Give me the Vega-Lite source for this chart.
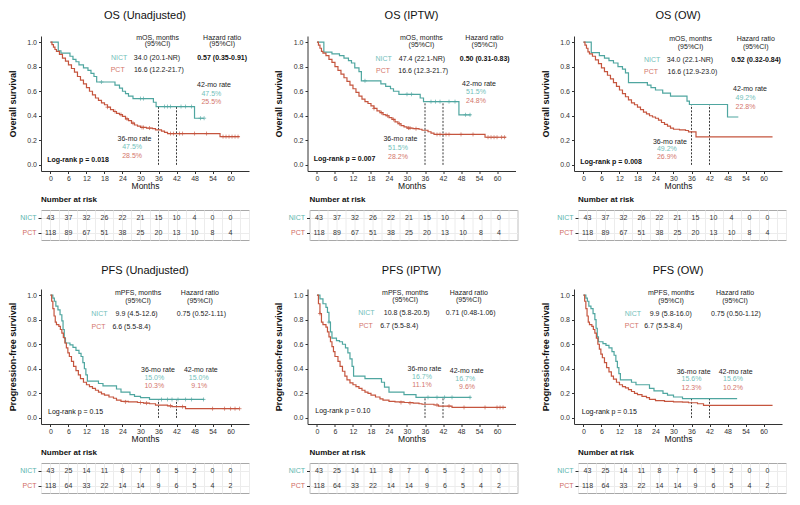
{
"$schema": "https://vega.github.io/schema/vega-lite/v6.json",
"padding": {"left": 7, "top": 10, "right": 0, "bottom": 0},
"config": {
  "font": "Liberation Sans",
  "view": {"stroke": null},
  "axis": {"domainColor": "#333", "tickColor": "#333", "labelColor": "#333", "titleColor": "#111", "grid": false, "labelFont": "Liberation Sans", "titleFont": "Liberation Sans"},
  "header": {"labelFont": "Liberation Sans"}
},
"datasets": {
  "km": [
    {"o":"OS","p":"U","type":"km","g":"NICT","t":[0,2.6,3.5,6.5,7.5,8.5,9.5,11,12.5,13.5,14.5,15.4,21.5,23,24,25,26,27.5,34.3,35.2,48,51.2],"s":[1,0.93,0.91,0.885,0.86,0.84,0.815,0.79,0.77,0.745,0.72,0.675,0.65,0.625,0.6,0.58,0.56,0.54,0.51,0.475,0.38,0.38]},
    {"o":"OS","p":"U","type":"cens","g":"NICT","t":[17,30,31,38,39,40,43.5,45,47,50,51.2],"s":[0.675,0.54,0.54,0.475,0.475,0.475,0.475,0.475,0.475,0.38,0.38]},
    {"o":"OS","p":"U","type":"km","g":"PCT","t":[0,0.5,1,1.5,2,3,4,5,6,7,8,9,10,11,12,13,14,15,16,17,18,19,20,21,22,23,24,25,26,27,28,29,30,32,34,35,37,38,39,56.5,63],"s":[1,0.98,0.96,0.94,0.925,0.9,0.87,0.845,0.815,0.785,0.755,0.72,0.69,0.66,0.63,0.6,0.57,0.545,0.525,0.505,0.49,0.47,0.45,0.435,0.42,0.41,0.395,0.375,0.36,0.34,0.325,0.315,0.305,0.3,0.295,0.285,0.275,0.265,0.255,0.23,0.23]},
    {"o":"OS","p":"U","type":"cens","g":"PCT","t":[19,21.5,23.5,25.5,27.5,30.5,31,33,40,41,43,44,48,52,57.5,58.5,59.5,60.5,61.5,62.5],"s":[0.47,0.435,0.41,0.375,0.34,0.305,0.305,0.3,0.255,0.255,0.255,0.255,0.255,0.255,0.23,0.23,0.23,0.23,0.23,0.23]},
    {"o":"OS","p":"U","type":"ref","t":[36,42],"s":[0.475,0.475]},
    {"o":"OS","p":"I","type":"km","g":"NICT","t":[0,2.3,5,7.5,9,10.5,11.5,12.6,14,14.8,21.3,22.9,24.5,25.5,27.3,34.4,35.5,47.3,51.2],"s":[1,0.918,0.905,0.89,0.87,0.85,0.83,0.79,0.76,0.685,0.66,0.64,0.62,0.6,0.575,0.545,0.515,0.408,0.408]},
    {"o":"OS","p":"I","type":"cens","g":"NICT","t":[16,30,31.5,38,39.5,41,44,46,49.5,51],"s":[0.685,0.575,0.575,0.515,0.515,0.515,0.515,0.515,0.408,0.408]},
    {"o":"OS","p":"I","type":"km","g":"PCT","t":[0,0.5,1,1.5,2,3,4,5,6,7,8,9,10,11,12,13,14,15,16,17,18,19,20,21,22,23,24,25,26,27,28,29,30,32,34,35,37,38,39,56,63],"s":[1,0.975,0.95,0.925,0.91,0.89,0.86,0.835,0.8,0.77,0.74,0.71,0.68,0.65,0.62,0.59,0.56,0.535,0.515,0.5,0.48,0.46,0.44,0.425,0.41,0.4,0.385,0.37,0.35,0.335,0.32,0.31,0.3,0.295,0.29,0.282,0.27,0.258,0.248,0.225,0.225]},
    {"o":"OS","p":"I","type":"cens","g":"PCT","t":[19,21.5,23.5,25.5,27.5,30.5,31,33,40,41,43,44,48,52,57,58,59,60,61.5,62.5],"s":[0.46,0.425,0.4,0.37,0.335,0.3,0.3,0.295,0.248,0.248,0.248,0.248,0.248,0.248,0.225,0.225,0.225,0.225,0.225,0.225]},
    {"o":"OS","p":"I","type":"ref","t":[36,42],"s":[0.515,0.515]},
    {"o":"OS","p":"W","type":"km","g":"NICT","t":[0,2.6,5.3,7,8.5,10,11.5,13,14,15,21.3,22.5,24,26.4,29,34.5,35.3,48,51.6],"s":[1,0.915,0.89,0.87,0.85,0.83,0.8,0.78,0.75,0.67,0.65,0.63,0.61,0.585,0.56,0.52,0.492,0.39,0.39]},
    {"o":"OS","p":"W","type":"km","g":"PCT","t":[0,0.5,1,1.5,2,3,4,5,6,7,8,9,10,11,12,13,14,15,16,17,18,19,20,21,22,23,24,25,26,27,28,29,30,32,34,35,37.5,63],"s":[1,0.975,0.95,0.92,0.905,0.885,0.855,0.825,0.79,0.76,0.73,0.7,0.67,0.64,0.61,0.58,0.555,0.53,0.505,0.49,0.47,0.45,0.43,0.415,0.4,0.39,0.38,0.365,0.345,0.33,0.315,0.3,0.29,0.285,0.28,0.269,0.228,0.228]},
    {"o":"OS","p":"W","type":"ref","t":[36,42],"s":[0.492,0.492]},
    {"o":"PFS","p":"U","type":"km","g":"NICT","t":[0,0.8,1.3,1.8,2.5,3.2,3.8,4.2,4.6,5,6.5,7.5,8.5,9.5,10.2,10.8,11.3,11.8,12.3,16,17.5,22,23.5,26.5,28,30,33,51.2],"s":[1,0.975,0.95,0.91,0.88,0.84,0.79,0.72,0.65,0.61,0.595,0.575,0.55,0.525,0.5,0.45,0.4,0.35,0.3,0.28,0.26,0.235,0.21,0.19,0.175,0.165,0.15,0.15]},
    {"o":"PFS","p":"U","type":"cens","g":"NICT","t":[37,39,40.5,42.5,45,47,51],"s":[0.15,0.15,0.15,0.15,0.15,0.15,0.15]},
    {"o":"PFS","p":"U","type":"km","g":"PCT","t":[0,0.4,0.8,1.2,1.6,2,2.8,3.3,3.8,4.3,4.8,5.3,5.8,6.3,7,7.7,8.5,9.3,10,11,12,13,14,15,16,17,18,19.5,21,22,23.5,26,29,31,33,35,39,40.5,45,63],"s":[1,0.95,0.89,0.83,0.78,0.76,0.745,0.72,0.69,0.655,0.61,0.57,0.53,0.5,0.46,0.42,0.385,0.35,0.32,0.29,0.27,0.255,0.24,0.225,0.21,0.195,0.185,0.17,0.16,0.145,0.135,0.13,0.125,0.12,0.115,0.103,0.098,0.091,0.075,0.075]},
    {"o":"PFS","p":"U","type":"cens","g":"PCT","t":[25,30,32,40,44,54,58,60,61.5,63],"s":[0.13,0.125,0.12,0.098,0.091,0.075,0.075,0.075,0.075,0.075]},
    {"o":"PFS","p":"U","type":"ref","t":[36,42],"s":[0.15,0.15]},
    {"o":"PFS","p":"I","type":"km","g":"NICT","t":[0,1,2,3,3.5,4,4.5,5,6.5,7.5,8.5,9.5,10.3,11,11.7,12.2,16,21.5,22.5,24,29,33,51.2],"s":[1,0.97,0.93,0.9,0.86,0.78,0.7,0.65,0.63,0.62,0.6,0.57,0.53,0.48,0.42,0.34,0.32,0.29,0.25,0.21,0.19,0.167,0.167]},
    {"o":"PFS","p":"I","type":"cens","g":"NICT","t":[4,37,40,42.5,45,51],"s":[0.78,0.167,0.167,0.167,0.167,0.167]},
    {"o":"PFS","p":"I","type":"km","g":"PCT","t":[0,0.5,1,1.5,2,3,3.5,4,4.5,5,5.5,6,7,7.7,8.5,9.3,10,11,12,13,14,15,16,17,18,19.5,21,22,24,26,29,32,34,35,39,40.5,45,63],"s":[1,0.93,0.85,0.78,0.76,0.74,0.7,0.66,0.62,0.58,0.54,0.5,0.46,0.42,0.38,0.34,0.31,0.285,0.27,0.255,0.24,0.225,0.21,0.2,0.185,0.17,0.155,0.145,0.135,0.13,0.125,0.12,0.115,0.111,0.105,0.096,0.085,0.085]},
    {"o":"PFS","p":"I","type":"cens","g":"PCT","t":[1,28,31,40,44,49,56,60,61,62],"s":[0.85,0.125,0.12,0.105,0.096,0.085,0.085,0.085,0.085,0.085]},
    {"o":"PFS","p":"I","type":"ref","t":[36,42],"s":[0.167,0.167]},
    {"o":"PFS","p":"W","type":"km","g":"NICT","t":[0,0.8,1.3,1.8,2.5,3.2,3.8,4.2,4.6,5,6.5,7.5,8.5,9.5,10.2,10.8,11.3,11.8,12.3,16,17.5,22,23.5,26.5,28,30,33,51.2],"s":[1,0.975,0.95,0.91,0.89,0.85,0.8,0.73,0.66,0.62,0.605,0.59,0.57,0.54,0.51,0.46,0.41,0.36,0.31,0.29,0.27,0.24,0.22,0.2,0.185,0.17,0.156,0.156]},
    {"o":"PFS","p":"W","type":"km","g":"PCT","t":[0,0.4,0.8,1.2,1.6,2,2.8,3.3,3.8,4.3,4.8,5.3,5.8,6.3,7,7.7,8.5,9.3,10,11,12,13,14,15,16,17,18,19.5,21,22,24,27,30,33,35,38,40,63],"s":[1,0.95,0.89,0.83,0.78,0.76,0.745,0.72,0.69,0.65,0.6,0.56,0.52,0.49,0.45,0.41,0.375,0.34,0.315,0.29,0.27,0.255,0.245,0.23,0.215,0.2,0.19,0.175,0.165,0.15,0.14,0.135,0.13,0.128,0.123,0.115,0.102,0.102]},
    {"o":"PFS","p":"W","type":"ref","t":[36,42],"s":[0.156,0.156]},

    {"o":"OS","p":"U","type":"ann","k":"hdr","t":35.7,"s":1.035,"txt":"mOS, months"},
    {"o":"OS","p":"U","type":"ann","k":"hdr","t":35.7,"s":0.981,"txt":"(95%CI)"},
    {"o":"OS","p":"U","type":"ann","k":"hdr","t":57.2,"s":1.035,"txt":"Hazard ratio"},
    {"o":"OS","p":"U","type":"ann","k":"hdr","t":57.2,"s":0.981,"txt":"(95%CI)"},
    {"o":"OS","p":"U","type":"ann","k":"lab","g":"NICT","t":22.9,"s":0.871,"txt":"NICT"},
    {"o":"OS","p":"U","type":"ann","k":"val","t":35.5,"s":0.871,"txt":"34.0 (20.1-NR)"},
    {"o":"OS","p":"U","type":"ann","k":"hr","t":57.2,"s":0.871,"txt":"0.57 (0.35-0.91)"},
    {"o":"OS","p":"U","type":"ann","k":"lab","g":"PCT","t":22.4,"s":0.77,"txt":"PCT"},
    {"o":"OS","p":"U","type":"ann","k":"val","t":36.1,"s":0.77,"txt":"16.6 (12.2-21.7)"},
    {"o":"OS","p":"U","type":"ann","k":"hdr","t":54.5,"s":0.648,"txt":"42-mo rate"},
    {"o":"OS","p":"U","type":"ann","k":"rate","g":"NICT","t":53.6,"s":0.576,"txt":"47.5%"},
    {"o":"OS","p":"U","type":"ann","k":"rate","g":"PCT","t":53.6,"s":0.51,"txt":"25.5%"},
    {"o":"OS","p":"U","type":"ann","k":"hdr","t":28,"s":0.21,"txt":"36-mo rate"},
    {"o":"OS","p":"U","type":"ann","k":"rate","g":"NICT","t":27.2,"s":0.142,"txt":"47.5%"},
    {"o":"OS","p":"U","type":"ann","k":"rate","g":"PCT","t":27.2,"s":0.071,"txt":"28.5%"},
    {"o":"OS","p":"U","type":"ann","k":"lr","t":-1.1,"s":0.043,"txt":"Log-rank p = 0.018"},

    {"o":"OS","p":"I","type":"ann","k":"hdr","t":34.8,"s":1.035,"txt":"mOS, months"},
    {"o":"OS","p":"I","type":"ann","k":"hdr","t":34.8,"s":0.975,"txt":"(95%CI)"},
    {"o":"OS","p":"I","type":"ann","k":"hdr","t":55.8,"s":1.035,"txt":"Hazard ratio"},
    {"o":"OS","p":"I","type":"ann","k":"hdr","t":55.8,"s":0.975,"txt":"(95%CI)"},
    {"o":"OS","p":"I","type":"ann","k":"lab","g":"NICT","t":22.2,"s":0.866,"txt":"NICT"},
    {"o":"OS","p":"I","type":"ann","k":"val","t":35,"s":0.866,"txt":"47.4 (22.1-NR)"},
    {"o":"OS","p":"I","type":"ann","k":"hr","t":55.9,"s":0.866,"txt":"0.50 (0.31-0.83)"},
    {"o":"OS","p":"I","type":"ann","k":"lab","g":"PCT","t":22,"s":0.763,"txt":"PCT"},
    {"o":"OS","p":"I","type":"ann","k":"val","t":35.4,"s":0.763,"txt":"16.6 (12.3-21.7)"},
    {"o":"OS","p":"I","type":"ann","k":"hdr","t":54,"s":0.662,"txt":"42-mo rate"},
    {"o":"OS","p":"I","type":"ann","k":"rate","g":"NICT","t":53,"s":0.594,"txt":"51.5%"},
    {"o":"OS","p":"I","type":"ann","k":"rate","g":"PCT","t":53,"s":0.523,"txt":"24.8%"},
    {"o":"OS","p":"I","type":"ann","k":"hdr","t":27.8,"s":0.21,"txt":"36-mo rate"},
    {"o":"OS","p":"I","type":"ann","k":"rate","g":"NICT","t":27,"s":0.136,"txt":"51.5%"},
    {"o":"OS","p":"I","type":"ann","k":"rate","g":"PCT","t":27,"s":0.063,"txt":"28.2%"},
    {"o":"OS","p":"I","type":"ann","k":"lr","t":-1.1,"s":0.049,"txt":"Log-rank p = 0.007"},

    {"o":"OS","p":"W","type":"ann","k":"hdr","t":35.7,"s":1.025,"txt":"mOS, months"},
    {"o":"OS","p":"W","type":"ann","k":"hdr","t":35.7,"s":0.964,"txt":"(95%CI)"},
    {"o":"OS","p":"W","type":"ann","k":"hdr","t":57.4,"s":1.025,"txt":"Hazard ratio"},
    {"o":"OS","p":"W","type":"ann","k":"hdr","t":57.4,"s":0.964,"txt":"(95%CI)"},
    {"o":"OS","p":"W","type":"ann","k":"lab","g":"NICT","t":22.9,"s":0.855,"txt":"NICT"},
    {"o":"OS","p":"W","type":"ann","k":"val","t":35.5,"s":0.855,"txt":"34.0 (22.1-NR)"},
    {"o":"OS","p":"W","type":"ann","k":"hr","t":57.5,"s":0.855,"txt":"0.52 (0.32-0.84)"},
    {"o":"OS","p":"W","type":"ann","k":"lab","g":"PCT","t":22.5,"s":0.76,"txt":"PCT"},
    {"o":"OS","p":"W","type":"ann","k":"val","t":36.3,"s":0.76,"txt":"16.6 (12.9-23.0)"},
    {"o":"OS","p":"W","type":"ann","k":"hdr","t":55.5,"s":0.615,"txt":"42-mo rate"},
    {"o":"OS","p":"W","type":"ann","k":"rate","g":"NICT","t":54,"s":0.546,"txt":"49.2%"},
    {"o":"OS","p":"W","type":"ann","k":"rate","g":"PCT","t":54,"s":0.47,"txt":"22.8%"},
    {"o":"OS","p":"W","type":"ann","k":"hdr","t":28.8,"s":0.19,"txt":"36-mo rate"},
    {"o":"OS","p":"W","type":"ann","k":"rate","g":"NICT","t":27.8,"s":0.128,"txt":"49.2%"},
    {"o":"OS","p":"W","type":"ann","k":"rate","g":"PCT","t":27.8,"s":0.063,"txt":"26.9%"},
    {"o":"OS","p":"W","type":"ann","k":"lr","t":-1.1,"s":0.027,"txt":"Log-rank p = 0.008"},

    {"o":"PFS","p":"U","type":"ann","k":"hdr","t":29.2,"s":1.014,"txt":"mPFS, months"},
    {"o":"PFS","p":"U","type":"ann","k":"hdr","t":29.2,"s":0.954,"txt":"(95%CI)"},
    {"o":"PFS","p":"U","type":"ann","k":"hdr","t":49.8,"s":1.014,"txt":"Hazard ratio"},
    {"o":"PFS","p":"U","type":"ann","k":"hdr","t":49.8,"s":0.954,"txt":"(95%CI)"},
    {"o":"PFS","p":"U","type":"ann","k":"lab","g":"NICT","t":16.3,"s":0.85,"txt":"NICT"},
    {"o":"PFS","p":"U","type":"ann","k":"val","t":28.7,"s":0.85,"txt":"9.9 (4.5-12.6)"},
    {"o":"PFS","p":"U","type":"ann","k":"hr","t":50.3,"s":0.85,"txt":"0.75 (0.52-1.11)"},
    {"o":"PFS","p":"U","type":"ann","k":"lab","g":"PCT","t":16,"s":0.74,"txt":"PCT"},
    {"o":"PFS","p":"U","type":"ann","k":"val","t":27,"s":0.74,"txt":"6.6 (5.5-8.4)"},
    {"o":"PFS","p":"U","type":"ann","k":"hdr","t":35.8,"s":0.392,"txt":"36-mo rate"},
    {"o":"PFS","p":"U","type":"ann","k":"rate","g":"NICT","t":34.6,"s":0.327,"txt":"15.0%"},
    {"o":"PFS","p":"U","type":"ann","k":"rate","g":"PCT","t":34.6,"s":0.262,"txt":"10.3%"},
    {"o":"PFS","p":"U","type":"ann","k":"hdr","t":50.1,"s":0.387,"txt":"42-mo rate"},
    {"o":"PFS","p":"U","type":"ann","k":"rate","g":"NICT","t":49.4,"s":0.327,"txt":"15.0%"},
    {"o":"PFS","p":"U","type":"ann","k":"rate","g":"PCT","t":49.6,"s":0.262,"txt":"9.1%"},
    {"o":"PFS","p":"U","type":"ann","k":"lr","t":-0.8,"s":0.044,"txt":"Log-rank p = 0.15"},

    {"o":"PFS","p":"I","type":"ann","k":"hdr","t":29.4,"s":1.02,"txt":"mPFS, months"},
    {"o":"PFS","p":"I","type":"ann","k":"hdr","t":29.4,"s":0.96,"txt":"(95%CI)"},
    {"o":"PFS","p":"I","type":"ann","k":"hdr","t":50.6,"s":1.02,"txt":"Hazard ratio"},
    {"o":"PFS","p":"I","type":"ann","k":"hdr","t":50.6,"s":0.96,"txt":"(95%CI)"},
    {"o":"PFS","p":"I","type":"ann","k":"lab","g":"NICT","t":16.5,"s":0.853,"txt":"NICT"},
    {"o":"PFS","p":"I","type":"ann","k":"val","t":29.9,"s":0.853,"txt":"10.8 (5.8-20.5)"},
    {"o":"PFS","p":"I","type":"ann","k":"hr","t":51.2,"s":0.853,"txt":"0.71 (0.48-1.06)"},
    {"o":"PFS","p":"I","type":"ann","k":"lab","g":"PCT","t":16.3,"s":0.749,"txt":"PCT"},
    {"o":"PFS","p":"I","type":"ann","k":"val","t":27.4,"s":0.749,"txt":"6.7 (5.5-8.4)"},
    {"o":"PFS","p":"I","type":"ann","k":"hdr","t":35.8,"s":0.4,"txt":"36-mo rate"},
    {"o":"PFS","p":"I","type":"ann","k":"rate","g":"NICT","t":35,"s":0.335,"txt":"16.7%"},
    {"o":"PFS","p":"I","type":"ann","k":"rate","g":"PCT","t":35,"s":0.264,"txt":"11.1%"},
    {"o":"PFS","p":"I","type":"ann","k":"hdr","t":49.9,"s":0.381,"txt":"42-mo rate"},
    {"o":"PFS","p":"I","type":"ann","k":"rate","g":"NICT","t":49.4,"s":0.318,"txt":"16.7%"},
    {"o":"PFS","p":"I","type":"ann","k":"rate","g":"PCT","t":50,"s":0.251,"txt":"9.6%"},
    {"o":"PFS","p":"I","type":"ann","k":"lr","t":-0.55,"s":0.052,"txt":"Log-rank p = 0.10"},

    {"o":"PFS","p":"W","type":"ann","k":"hdr","t":29.2,"s":1.014,"txt":"mPFS, months"},
    {"o":"PFS","p":"W","type":"ann","k":"hdr","t":29.2,"s":0.956,"txt":"(95%CI)"},
    {"o":"PFS","p":"W","type":"ann","k":"hdr","t":50.5,"s":1.014,"txt":"Hazard ratio"},
    {"o":"PFS","p":"W","type":"ann","k":"hdr","t":50.5,"s":0.956,"txt":"(95%CI)"},
    {"o":"PFS","p":"W","type":"ann","k":"lab","g":"NICT","t":16.5,"s":0.85,"txt":"NICT"},
    {"o":"PFS","p":"W","type":"ann","k":"val","t":29.1,"s":0.85,"txt":"9.9 (5.8-16.0)"},
    {"o":"PFS","p":"W","type":"ann","k":"hr","t":50.8,"s":0.85,"txt":"0.75 (0.50-1.12)"},
    {"o":"PFS","p":"W","type":"ann","k":"lab","g":"PCT","t":16.1,"s":0.746,"txt":"PCT"},
    {"o":"PFS","p":"W","type":"ann","k":"val","t":26.6,"s":0.746,"txt":"6.7 (5.5-8.4)"},
    {"o":"PFS","p":"W","type":"ann","k":"hdr","t":36.7,"s":0.377,"txt":"36-mo rate"},
    {"o":"PFS","p":"W","type":"ann","k":"rate","g":"NICT","t":36,"s":0.314,"txt":"15.6%"},
    {"o":"PFS","p":"W","type":"ann","k":"rate","g":"PCT","t":36,"s":0.246,"txt":"12.3%"},
    {"o":"PFS","p":"W","type":"ann","k":"hdr","t":50.7,"s":0.377,"txt":"42-mo rate"},
    {"o":"PFS","p":"W","type":"ann","k":"rate","g":"NICT","t":49.8,"s":0.314,"txt":"15.6%"},
    {"o":"PFS","p":"W","type":"ann","k":"rate","g":"PCT","t":49.8,"s":0.246,"txt":"10.2%"},
    {"o":"PFS","p":"W","type":"ann","k":"lr","t":-0.55,"s":0.049,"txt":"Log-rank p = 0.15"}
  ],
  "risk": [
    {"o":"OS","g":"NICT","p":["U","I","W"],"t":[0,6,12,18,24,30,36,42,48,54,60],"n":[43,37,32,26,22,21,15,10,4,0,0]},
    {"o":"OS","g":"PCT","p":["U","I","W"],"t":[0,6,12,18,24,30,36,42,48,54,60],"n":[118,89,67,51,38,25,20,13,10,8,4]},
    {"o":"PFS","g":"NICT","p":["U","I","W"],"t":[0,6,12,18,24,30,36,42,48,54,60],"n":[43,25,14,11,8,7,6,5,2,0,0]},
    {"o":"PFS","g":"PCT","p":["U","I","W"],"t":[0,6,12,18,24,30,36,42,48,54,60],"n":[118,64,33,22,14,14,9,6,5,4,2]}
  ]
},
"spacing": 24,
"vconcat": [
  {
    "spacing": 6,
    "vconcat": [
      {
        "data": {"name": "km"},
        "transform": [{"filter": "datum.o == 'OS'"}],
        "facet": {"column": {"field": "p", "type": "nominal", "sort": ["U","I","W"], "header": {"title": null, "labelExpr": "'OS (' + (datum.value == 'U' ? 'Unadjusted' : datum.value == 'I' ? 'IPTW' : 'OW') + ')'", "labelFontSize": 11, "labelPadding": 12, "labelColor": "#111"}}},
        "spacing": 25.5,
        "resolve": {"axis": {"y": "independent"}},
        "spec": {
          "width": 208, "height": 135,
          "encoding": {
            "x": {"field": "t", "type": "quantitative", "scale": {"domain": [-3.15, 66.15], "nice": false, "zero": false}, "axis": {"values": [0,6,12,18,24,30,36,42,48,54,60], "title": "Months", "titleFontSize": 8.5, "titleFontWeight": "normal", "labelFontSize": 7, "tickSize": 2.5, "labelPadding": 1, "titlePadding": 0}},
            "y": {"field": "s", "type": "quantitative", "scale": {"domain": [-0.05, 1.05], "nice": false, "zero": false}, "axis": {"values": [0,0.2,0.4,0.6,0.8,1], "format": ".1f", "title": "Overall survival", "titleFontSize": 9, "titleFontWeight": "bold", "labelFontSize": 7, "tickSize": 2.5, "labelPadding": 2, "titlePadding": 2, "minExtent": 22, "maxExtent": 22}}
          },
          "layer": [
            {"transform": [{"filter": "datum.type == 'ref'"}, {"flatten": ["t","s"]}], "mark": {"type": "rule", "strokeDash": [2,1.5], "color": "#222", "strokeWidth": 0.9}, "encoding": {"y": {"datum": 0}, "y2": {"field": "s"}}},
            {"transform": [{"filter": "datum.type == 'km'"}, {"flatten": ["t","s"]}], "mark": {"type": "line", "interpolate": "step-after", "strokeWidth": 1.2}, "encoding": {"stroke": {"field": "g", "type": "nominal", "scale": {"domain": ["NICT","PCT"], "range": ["#4fa6a0","#c5553e"]}, "legend": null}}},
            {"transform": [{"filter": "datum.type == 'cens'"}, {"flatten": ["t","s"]}], "mark": {"type": "point", "shape": "M-1,0L1,0M0,-1L0,1", "filled": false, "size": 16, "strokeWidth": 0.9}, "encoding": {"stroke": {"field": "g", "type": "nominal", "scale": {"domain": ["NICT","PCT"], "range": ["#4fa6a0","#c5553e"]}, "legend": null}}},
            {"transform": [{"filter": "datum.type == 'ann' && datum.k != 'hr' && datum.k != 'lr'"}], "mark": {"type": "text", "fontSize": 7, "align": "center", "baseline": "middle"}, "encoding": {"text": {"field": "txt"}, "color": {"condition": [{"test": "datum.g == 'NICT'", "value": "#72c0ba"}, {"test": "datum.g == 'PCT'", "value": "#d4766c"}], "value": "#222"}}},
            {"transform": [{"filter": "datum.type == 'ann' && datum.k == 'hr'"}], "mark": {"type": "text", "fontSize": 7, "fontWeight": "bold", "align": "center", "baseline": "middle", "color": "#111"}, "encoding": {"text": {"field": "txt"}}},
            {"transform": [{"filter": "datum.type == 'ann' && datum.k == 'lr'"}], "mark": {"type": "text", "fontSize": 7, "fontWeight": "bold", "align": "left", "baseline": "middle", "color": "#111"}, "encoding": {"text": {"field": "txt"}}}
          ]
        }
      },
      {
        "data": {"name": "risk"},
        "transform": [{"filter": "datum.o == 'OS'"}, {"flatten": ["t","n"]}, {"flatten": ["p"]}],
        "facet": {"column": {"field": "p", "type": "nominal", "sort": ["U","I","W"], "header": {"title": null, "labelExpr": "'Number at risk'", "labelAnchor": "start", "labelFontWeight": "bold", "labelFontSize": 8, "labelPadding": 5, "labelColor": "#111"}}},
        "spacing": 25.5,
        "resolve": {"axis": {"y": "independent"}},
        "spec": {
          "width": 208, "height": 30,
          "view": {"stroke": "#a8a8a8"},
          "mark": {"type": "text", "fontSize": 7, "color": "#333"},
          "encoding": {
            "x": {"field": "t", "type": "quantitative", "scale": {"domain": [-3.15, 66.15], "nice": false, "zero": false}, "axis": {"values": [-3,0,3,6,9,12,15,18,21,24,27,30,33,36,39,42,45,48,51,54,57,60,63,66], "labels": false, "ticks": false, "domain": false, "grid": true, "gridColor": "#ececec", "title": null}},
            "y": {"field": "g", "type": "nominal", "scale": {"type": "point", "domain": ["NICT","PCT"], "padding": 0.5}, "axis": {"title": " ", "titleFontSize": 9, "titleFontWeight": "bold", "titlePadding": 2, "labelFontSize": 7, "labelColor": {"condition": {"test": "datum.value == 'NICT'", "value": "#5bb5ae"}, "value": "#d06b63"}, "grid": true, "gridColor": "#ececec", "tickSize": 3, "labelPadding": 2, "domain": false, "minExtent": 22, "maxExtent": 22}},
            "text": {"field": "n", "type": "quantitative"}
          }
        }
      }
    ]
  },
  {
    "spacing": 6,
    "vconcat": [
      {
        "data": {"name": "km"},
        "transform": [{"filter": "datum.o == 'PFS'"}],
        "facet": {"column": {"field": "p", "type": "nominal", "sort": ["U","I","W"], "header": {"title": null, "labelExpr": "'PFS (' + (datum.value == 'U' ? 'Unadjusted' : datum.value == 'I' ? 'IPTW' : 'OW') + ')'", "labelFontSize": 11, "labelPadding": 12, "labelColor": "#111"}}},
        "spacing": 25.5,
        "resolve": {"axis": {"y": "independent"}},
        "spec": {
          "width": 208, "height": 135,
          "encoding": {
            "x": {"field": "t", "type": "quantitative", "scale": {"domain": [-3.15, 66.15], "nice": false, "zero": false}, "axis": {"values": [0,6,12,18,24,30,36,42,48,54,60], "title": "Months", "titleFontSize": 8.5, "titleFontWeight": "normal", "labelFontSize": 7, "tickSize": 2.5, "labelPadding": 1, "titlePadding": 0}},
            "y": {"field": "s", "type": "quantitative", "scale": {"domain": [-0.05, 1.05], "nice": false, "zero": false}, "axis": {"values": [0,0.2,0.4,0.6,0.8,1], "format": ".1f", "title": "Progression-free survival", "titleFontSize": 9, "titleFontWeight": "bold", "labelFontSize": 7, "tickSize": 2.5, "labelPadding": 2, "titlePadding": 2, "minExtent": 22, "maxExtent": 22}}
          },
          "layer": [
            {"transform": [{"filter": "datum.type == 'ref'"}, {"flatten": ["t","s"]}], "mark": {"type": "rule", "strokeDash": [2,1.5], "color": "#222", "strokeWidth": 0.9}, "encoding": {"y": {"datum": 0}, "y2": {"field": "s"}}},
            {"transform": [{"filter": "datum.type == 'km'"}, {"flatten": ["t","s"]}], "mark": {"type": "line", "interpolate": "step-after", "strokeWidth": 1.2}, "encoding": {"stroke": {"field": "g", "type": "nominal", "scale": {"domain": ["NICT","PCT"], "range": ["#4fa6a0","#c5553e"]}, "legend": null}}},
            {"transform": [{"filter": "datum.type == 'cens'"}, {"flatten": ["t","s"]}], "mark": {"type": "point", "shape": "M-1,0L1,0M0,-1L0,1", "filled": false, "size": 16, "strokeWidth": 0.9}, "encoding": {"stroke": {"field": "g", "type": "nominal", "scale": {"domain": ["NICT","PCT"], "range": ["#4fa6a0","#c5553e"]}, "legend": null}}},
            {"transform": [{"filter": "datum.type == 'ann' && datum.k != 'lr'"}], "mark": {"type": "text", "fontSize": 7, "align": "center", "baseline": "middle"}, "encoding": {"text": {"field": "txt"}, "color": {"condition": [{"test": "datum.g == 'NICT'", "value": "#72c0ba"}, {"test": "datum.g == 'PCT'", "value": "#d4766c"}], "value": "#222"}}},
            {"transform": [{"filter": "datum.type == 'ann' && datum.k == 'lr'"}], "mark": {"type": "text", "fontSize": 7, "align": "left", "baseline": "middle", "color": "#111"}, "encoding": {"text": {"field": "txt"}}}
          ]
        }
      },
      {
        "data": {"name": "risk"},
        "transform": [{"filter": "datum.o == 'PFS'"}, {"flatten": ["t","n"]}, {"flatten": ["p"]}],
        "facet": {"column": {"field": "p", "type": "nominal", "sort": ["U","I","W"], "header": {"title": null, "labelExpr": "'Number at risk'", "labelAnchor": "start", "labelFontWeight": "bold", "labelFontSize": 8, "labelPadding": 5, "labelColor": "#111"}}},
        "spacing": 25.5,
        "resolve": {"axis": {"y": "independent"}},
        "spec": {
          "width": 208, "height": 30,
          "view": {"stroke": "#a8a8a8"},
          "mark": {"type": "text", "fontSize": 7, "color": "#333"},
          "encoding": {
            "x": {"field": "t", "type": "quantitative", "scale": {"domain": [-3.15, 66.15], "nice": false, "zero": false}, "axis": {"values": [-3,0,3,6,9,12,15,18,21,24,27,30,33,36,39,42,45,48,51,54,57,60,63,66], "labels": false, "ticks": false, "domain": false, "grid": true, "gridColor": "#ececec", "title": null}},
            "y": {"field": "g", "type": "nominal", "scale": {"type": "point", "domain": ["NICT","PCT"], "padding": 0.5}, "axis": {"title": " ", "titleFontSize": 9, "titleFontWeight": "bold", "titlePadding": 2, "labelFontSize": 7, "labelColor": {"condition": {"test": "datum.value == 'NICT'", "value": "#5bb5ae"}, "value": "#d06b63"}, "grid": true, "gridColor": "#ececec", "tickSize": 3, "labelPadding": 2, "domain": false, "minExtent": 22, "maxExtent": 22}},
            "text": {"field": "n", "type": "quantitative"}
          }
        }
      }
    ]
  }
]
}
